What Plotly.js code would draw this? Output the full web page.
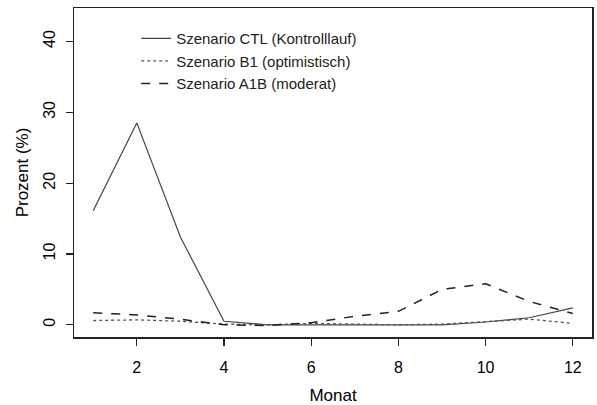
<!DOCTYPE html>
<html>
<head>
<meta charset="utf-8">
<script src="https://cdn.plot.ly/plotly-3.0.1.min.js"></script>
<style>html,body{margin:0;padding:0;background:#fff;}#chart{width:597px;height:405px;}</style>
</head>
<body>
<div id="chart"></div>
<script>
const months = [1,2,3,4,5,6,7,8,9,10,11,12];
const ctl = [16.1,28.5,12.4,0.5,0.0,0.0,0.0,0.0,0.0,0.4,1.0,2.4];
const b1  = [0.6,0.7,0.5,0.1,0.0,0.2,0.1,0.0,0.1,0.4,0.8,0.2];
const a1b = [1.7,1.4,0.8,0.0,-0.1,0.3,1.2,1.9,5.0,5.8,3.3,1.6];
const names = ['Szenario CTL (Kontrolllauf)','Szenario B1 (optimistisch)','Szenario A1B (moderat)'];
const xTicks = [2,4,6,8,10,12];
const yTicks = [0,10,20,30,40];

const fontFam = 'Liberation Sans, Arial, sans-serif';
const traces = [
  {x: months, y: ctl, name: names[0], mode: 'lines', line: {color: '#444', width: 1.2, dash: 'solid'}},
  {x: months, y: b1, name: names[1], mode: 'lines', line: {color: '#555', width: 1.3, dash: 'dot'}},
  {x: months, y: a1b, name: names[2], mode: 'lines', line: {color: '#222', width: 1.5, dash: 'dash'}}
];
const layout = {
  width: 597, height: 405,
  margin: {l: 74, r: 5, t: 8, b: 68},
  paper_bgcolor: '#fff', plot_bgcolor: '#fff',
  font: {family: fontFam, size: 16, color: '#111'},
  showlegend: true,
  legend: {x: 0.12, y: 0.957, xanchor: 'left', yanchor: 'top', bgcolor: 'rgba(0,0,0,0)',
           font: {family: fontFam, size: 15, color: '#222'}, tracegroupgap: 0, itemclick: false},
  xaxis: {range: [0.56, 12.44], tickvals: xTicks, ticktext: xTicks.map(String),
          showgrid: false, zeroline: false, showline: true, mirror: true, linecolor: '#222', linewidth: 1.5,
          ticks: 'outside', ticklen: 7, tickcolor: '#222', tickwidth: 1.2, ticklabelstandoff: 8,
          tickfont: {family: fontFam, size: 16, color: '#000'},
          title: {text: 'Monat', font: {family: fontFam, size: 17, color: '#000'}, standoff: 14}},
  yaxis: {range: [-1.72, 44.72], tickvals: yTicks, ticktext: yTicks.map(String), tickangle: -90,
          showgrid: false, zeroline: false, showline: true, mirror: true, linecolor: '#222', linewidth: 1.5,
          ticks: 'outside', ticklen: 7, tickcolor: '#222', tickwidth: 1.2, ticklabelstandoff: 4,
          tickfont: {family: fontFam, size: 16, color: '#000'},
          title: {text: 'Prozent (%)', font: {family: fontFam, size: 17, color: '#000'}, standoff: 8}}
};
Plotly.newPlot('chart', traces, layout, {staticPlot: true, displayModeBar: false});
</script>
</body>
</html>
